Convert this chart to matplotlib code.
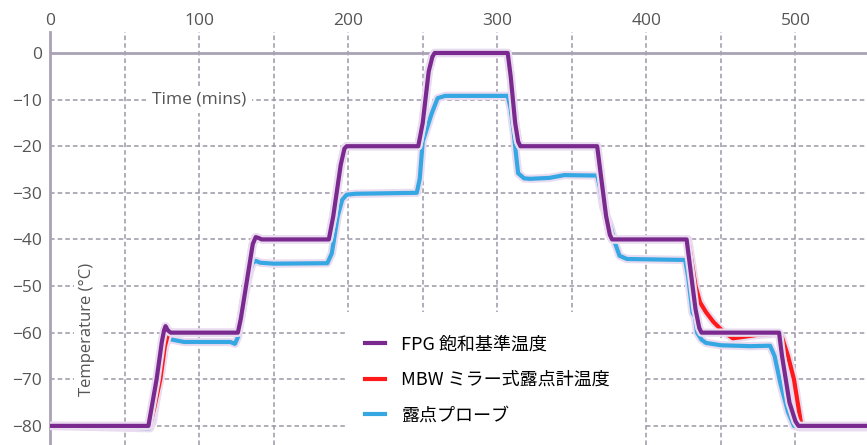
import matplotlib
matplotlib.use('Agg')
import matplotlib.pyplot as plt
import matplotlib.patheffects as pe
from matplotlib.patches import Rectangle

# FPG saturation reference temperature
fpg_t = [0, 66, 71.5, 75, 76.5, 77.5, 79, 81, 126, 128, 133, 136, 138, 140, 142,
         187, 190, 195, 197.5, 199, 247, 250, 254, 256.5, 258, 307, 309, 312,
         314, 315.5, 367, 369, 373, 375.5, 377, 427, 429, 433, 435.5, 437,
         489, 491, 496, 500, 502, 548]
fpg_T = [-80, -80, -70, -62, -59.5, -58.6, -59.5, -60, -60, -57, -47, -41, -39.5, -39.7, -40,
         -40, -35, -24, -20.5, -20, -20, -15, -4, -0.8, 0, 0, -5, -15,
         -19, -20, -20, -25, -35, -39, -40, -40, -45, -55, -59, -60,
         -60, -65, -75, -79, -80, -80]

# MBW mirror dew point meter
mbw_t = [0, 67, 70, 74, 77, 79, 81, 126, 128, 133, 136, 138, 140, 142,
         187, 190, 195, 197.5, 199, 247, 250, 254, 256.5, 258, 307, 309, 312,
         314, 315.5, 367, 369, 373, 375.5, 377, 428, 430, 433, 436, 440, 445,
         452, 458, 463, 474, 488, 491, 495, 499, 502, 504, 548]
mbw_T = [-80, -80, -76, -70, -63, -60.5, -60, -60, -57, -47, -41, -39.5, -39.7, -40,
         -40, -35, -24, -20.5, -20, -20, -15, -4, -0.8, 0, 0, -5, -15,
         -19, -20, -20, -25, -35, -39, -40, -40, -44, -50, -53.5, -55.6, -57.7,
         -59.9, -61.2, -61, -60.5, -60.2, -61, -65, -70, -76, -80, -80]

# dew point probe
probe_t = [0, 40, 67, 69, 73, 77, 79, 82, 90, 110, 121, 124, 126, 130, 134, 136,
           138, 141, 150, 186, 189, 193, 196, 199, 205, 246, 248, 250, 253, 256,
           260, 265, 307, 309, 311, 313, 314, 318, 322, 335, 345, 367, 369, 371,
           376, 379, 382, 387, 426, 428, 431, 432.5, 434, 437, 440, 450, 470,
           483, 486, 490, 495, 499, 503, 548]
probe_T = [-80, -80.3, -80.5, -79, -71, -63, -61.3, -61.5, -62, -62, -62, -62.4, -61,
           -53, -47, -45, -44.6, -45, -45.2, -45.1, -43, -35, -31.5, -30.4, -30.2,
           -30, -27, -19, -16, -13, -9.7, -9.2, -9.2, -12, -17, -23, -25.8, -26.9,
           -27, -26.8, -26.2, -26.3, -29, -33, -37.3, -40.8, -43.5, -44.2, -44.4,
           -48, -55.8, -56.5, -60, -61.5, -62.2, -62.7, -62.9, -62.8, -65, -71,
           -77, -80, -80.3, -80.3]

labels = ['FPG 飽和基準温度', 'MBW ミラー式露点計温度', '露点プローブ']
colors = ['#7a2a8e', '#ff1a1a', '#35a7e2']


def main():
    fig = plt.figure(figsize=(8.67, 4.45), dpi=100)
    ax = fig.add_axes([50 / 867, 0, 817 / 867, 413 / 445])

    ax.set_xlim(0, 548)
    ax.set_ylim(-84.1, 4.5)

    grid_kw = dict(color='#9d97a6', lw=1.1, ls=(0, (3, 2)), zorder=1)
    for x in range(50, 550, 50):
        ax.axvline(x, **grid_kw)
    for y in range(-80, 0, 10):
        ax.axhline(y, **grid_kw)
    ax.axhline(0, color='#aaa2b4', lw=2, zorder=1.5)

    for s in ['top', 'right', 'bottom']:
        ax.spines[s].set_visible(False)
    ax.spines['left'].set_color('#aaa2b4')
    ax.spines['left'].set_linewidth(2)

    ax.xaxis.tick_top()
    ax.set_xticks(range(0, 600, 100))
    ax.set_yticks(range(-80, 10, 10))
    ax.tick_params(length=0, labelsize=12.5, labelcolor='#555555')
    ax.tick_params(axis='x', pad=2)
    ax.tick_params(axis='y', pad=6)
    for lbl in ax.get_xticklabels() + ax.get_yticklabels():
        lbl.set_family('Open Sans')

    glow = [pe.Stroke(linewidth=6, foreground='#eadcf0'), pe.Normal()]
    series = [(probe_t, probe_T), (mbw_t, mbw_T), (fpg_t, fpg_T)]
    order = [2, 1, 0]
    for (t, T), i in zip(series, order):
        ax.plot(t, T, color=colors[i], lw=3, solid_joinstyle='round',
                path_effects=glow, zorder=3 + (2 - i), label=labels[i])

    box = dict(facecolor='white', edgecolor='none', pad=4)
    ax.text(100, -10, 'Time (mins)', ha='center', va='center', fontsize=12.5,
            family='Open Sans', color='#555555', bbox=box, zorder=2)
    ax.text(25, -59.4, 'Temperature (°C)', ha='center', va='center', fontsize=12,
            family='Open Sans', color='#555555', rotation=90, bbox=box, zorder=2)

    ax.add_patch(Rectangle((0.361, 0), 0.365, 0.322, transform=ax.transAxes,
                           facecolor='white', edgecolor='none', zorder=2))

    handles, labs = ax.get_legend_handles_labels()
    hmap = dict(zip(labs, handles))
    leg = ax.legend([hmap[l] for l in labels], labels, loc='upper left',
                    bbox_to_anchor=(0.386, 0.265), frameon=False,
                    prop={'family': ['Noto Sans CJK JP', 'DejaVu Sans'], 'size': 13},
                    handlelength=1.1, handletextpad=0.9, labelspacing=0.97,
                    borderpad=0, borderaxespad=0)
    for h in leg.legend_handles:
        h.set_path_effects([])
    leg.set_zorder(6)

    fig.savefig('out.png', dpi=100)


if __name__ == '__main__':
    main()
